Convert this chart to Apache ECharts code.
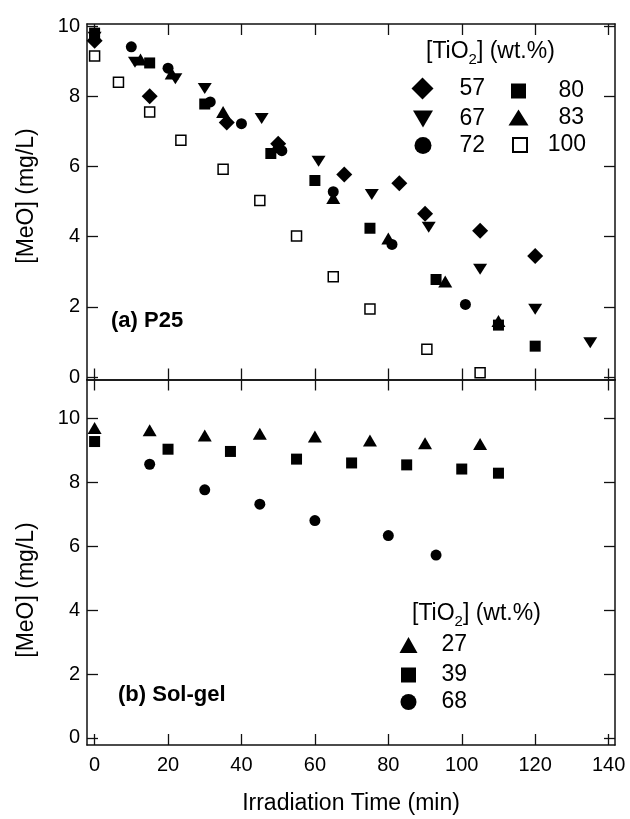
<!DOCTYPE html>
<html>
<head>
<meta charset="utf-8">
<title>MeO vs irradiation time</title>
<script src="https://cdn.jsdelivr.net/npm/echarts@6/dist/echarts.min.js"></script>
<style>
  html, body { margin: 0; padding: 0; background: #fff; }
  #chart { width: 630px; height: 819px; }
</style>
</head>
<body>
<div id="chart"></div>
<script>
// (a) P25 : [time (min), [MeO] (mg/L)] per TiO2 wt.%
const p25_57 = [[0, 9.58], [15, 8.0], [36, 7.25], [50, 6.65], [68, 5.77], [83, 5.52], [90, 4.65], [105, 4.17], [120, 3.45]];
const p25_67 = [[0, 9.68], [11, 8.97], [22, 8.5], [30, 8.22], [45.5, 7.37], [61, 6.15], [75.5, 5.2], [91, 4.27], [105, 3.07], [120, 1.93], [135, 0.98]];
const p25_72 = [[0, 9.72], [10, 9.41], [20, 8.8], [31.5, 7.84], [40, 7.22], [51, 6.45], [65, 5.28], [81, 3.78], [101, 2.07]];
const p25_80 = [[0, 9.8], [15, 8.95], [30, 7.78], [48, 6.37], [60, 5.6], [75, 4.24], [93, 2.78], [110, 1.48], [120, 0.88]];
const p25_83 = [[0, 9.75], [12.5, 9.05], [21, 8.65], [35, 7.55], [49.5, 6.55], [65, 5.1], [80, 3.95], [95.5, 2.72], [110, 1.6]];
const p25_100 = [[0, 9.15], [6.5, 8.4], [15, 7.55], [23.5, 6.75], [35, 5.92], [45, 5.03], [55, 4.02], [65, 2.86], [75, 1.94], [90.5, 0.79], [105, 0.12]];

// (b) Sol-gel
const sg_27 = [[0, 9.69], [15, 9.62], [30, 9.46], [45, 9.51], [60, 9.43], [75, 9.3], [90, 9.22], [105, 9.19]];
const sg_39 = [[0, 9.27], [20, 9.03], [37, 8.96], [55, 8.72], [70, 8.6], [85, 8.54], [100, 8.41], [110, 8.28]];
const sg_68 = [[15, 8.56], [30, 7.76], [45, 7.31], [60, 6.8], [80, 6.33], [93, 5.72]];

const xTicks = [0, 20, 40, 60, 80, 100, 120, 140];
const yTicks = [0, 2, 4, 6, 8, 10];

const FONT = '"Liberation Sans", Arial, sans-serif';
const INK = '#111';
const DOWN_TRI = 'path://M0,0 L20,0 L10,17 Z';

const chart = echarts.init(document.getElementById('chart'), null, { renderer: 'canvas' });

function xAxis(grid, pos, labels) {
    return {
        type: 'value', gridIndex: grid, position: pos,
        min: -2.07, max: 141.74,
        axisLine: { show: true, onZero: false, lineStyle: { color: INK, width: 1.5 } },
        axisTick: { show: true, inside: true, length: 11, customValues: xTicks, lineStyle: { color: INK, width: 1.3 } },
        axisLabel: { show: labels, customValues: xTicks, margin: 10, fontSize: 20, fontFamily: FONT, color: '#000' },
        splitLine: { show: false },
        name: labels ? 'Irradiation Time (min)' : '',
        nameLocation: 'middle', nameGap: 47,
        nameTextStyle: { fontSize: 23, fontFamily: FONT, color: '#000' }
    };
}

function yAxis(grid, pos, min, max, labels) {
    return {
        type: 'value', gridIndex: grid, position: pos,
        min: min, max: max,
        axisLine: { show: true, onZero: false, lineStyle: { color: INK, width: 1.5 } },
        axisTick: { show: true, inside: true, length: 11, customValues: yTicks, lineStyle: { color: INK, width: 1.3 } },
        axisLabel: { show: labels, customValues: yTicks, margin: 7, fontSize: 20, fontFamily: FONT, color: '#000' },
        splitLine: { show: false }
    };
}

function scatter(name, data, grid, symbol, size, extra) {
    return Object.assign({
        name: name, type: 'scatter', data: data,
        xAxisIndex: grid * 2, yAxisIndex: grid * 2,
        symbol: symbol, symbolSize: size,
        itemStyle: { color: '#000', opacity: 1 },
        silent: true
    }, extra || {});
}

// one legend block per entry so each icon/number sits where the figure has it
function legendItem(name, cx, cy, w, h, textRight, icon) {
    const left = cx - w / 2;
    return {
        data: [icon ? { name: name, icon: icon } : name],
        left: left, top: cy - h / 2,
        itemWidth: w, itemHeight: h,
        symbolKeepAspect: false,
        padding: 0, itemGap: 0,
        selectedMode: false,
        itemStyle: { opacity: 1 },
        formatter: '{n|{name}}',
        textStyle: {
            rich: {
                n: { width: textRight - (left + w + 5), align: 'right', lineHeight: h,
                     fontSize: 23, fontFamily: FONT, color: '#000' }
            }
        }
    };
}

const openSq = { itemStyle: { color: '#fff', borderColor: '#000', borderWidth: 1.5, opacity: 1 } };
const down = { symbolRotate: 180 };

const option = {
    backgroundColor: '#fff',
    animation: false,
    grid: [
        { left: 87, top: 24, width: 528, height: 355.5 },
        { left: 87, top: 379.5, width: 528, height: 365.5 }
    ],
    xAxis: [
        xAxis(0, 'bottom', false), xAxis(0, 'top', false),
        xAxis(1, 'bottom', true), xAxis(1, 'top', false)
    ],
    yAxis: [
        yAxis(0, 'left', -0.07, 10.06, true), yAxis(0, 'right', -0.07, 10.06, false),
        yAxis(1, 'left', -0.22, 11.21, true), yAxis(1, 'right', -0.22, 11.21, false)
    ],
    legend: [
        legendItem('57', 422.5, 88, 22, 22, 485),
        legendItem('67', 423, 116, 20, 17, 485, DOWN_TRI),
        legendItem('72', 423, 142.5, 17, 17, 485),
        legendItem('80', 518.5, 87, 15, 15, 584),
        legendItem('83', 518.5, 114, 20, 16, 584),
        legendItem('100', 519, 140.5, 14, 14, 585),
        legendItem('27', 408.5, 641.5, 18, 16, 467),
        legendItem('39', 408.5, 671, 15, 15, 467),
        legendItem('68', 408.5, 698.5, 16, 16, 467)
    ],
    graphic: [
        { type: 'text', x: 27, y: 196, rotation: Math.PI / 2,
          style: { text: '[MeO] (mg/L)', fontSize: 23, fontFamily: FONT, fill: '#000', align: 'center', verticalAlign: 'middle' } },
        { type: 'text', x: 27, y: 590, rotation: Math.PI / 2,
          style: { text: '[MeO] (mg/L)', fontSize: 23, fontFamily: FONT, fill: '#000', align: 'center', verticalAlign: 'middle' } },
        { type: 'text', x: 111, y: 321,
          style: { text: '(a) P25', fontSize: 22, fontWeight: 'bold', fontFamily: FONT, fill: '#000', verticalAlign: 'middle' } },
        { type: 'text', x: 118, y: 695,
          style: { text: '(b) Sol-gel', fontSize: 22, fontWeight: 'bold', fontFamily: FONT, fill: '#000', verticalAlign: 'middle' } },
        { type: 'text', x: 426, y: 52,
          style: { text: '{a|[TiO}{s|2}{a|] (wt.%)}', verticalAlign: 'middle', fill: '#000',
                   rich: { a: { fontSize: 23, fontFamily: FONT, lineHeight: 30 },
                           s: { fontSize: 15, fontFamily: FONT, verticalAlign: 'bottom', lineHeight: 30 } } } },
        { type: 'text', x: 412, y: 614,
          style: { text: '{a|[TiO}{s|2}{a|] (wt.%)}', verticalAlign: 'middle', fill: '#000',
                   rich: { a: { fontSize: 23, fontFamily: FONT, lineHeight: 30 },
                           s: { fontSize: 15, fontFamily: FONT, verticalAlign: 'bottom', lineHeight: 30 } } } }
    ],
    series: [
        scatter('100', p25_100, 0, 'rect', 10, openSq),
        scatter('72', p25_72, 0, 'circle', 11),
        scatter('80', p25_80, 0, 'rect', 11),
        scatter('83', p25_83, 0, 'triangle', [14, 12]),
        scatter('67', p25_67, 0, 'triangle', [14, 11], down),
        scatter('57', p25_57, 0, 'diamond', 16),
        scatter('27', sg_27, 1, 'triangle', [14, 12]),
        scatter('39', sg_39, 1, 'rect', 11),
        scatter('68', sg_68, 1, 'circle', 11)
    ]
};

chart.setOption(option);
</script>
</body>
</html>
